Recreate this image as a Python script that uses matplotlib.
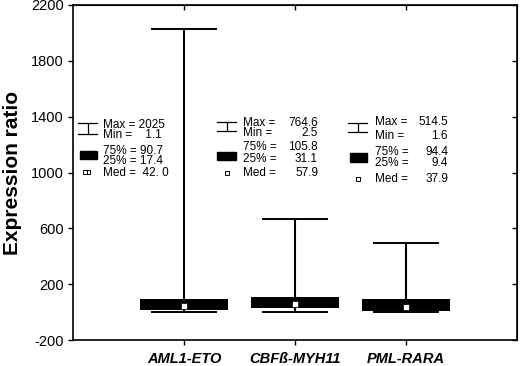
import matplotlib.pyplot as plt
import numpy as np

plt.rcParams['font.family'] = ['Liberation Sans', 'DejaVu Sans']
plt.rcParams['axes.unicode_minus'] = False

# 数据
cats = ['AML1-ETO', 'CBFß-MYH11', 'PML-RARA']
q25 = [17.4, 31.1, 9.4]
q75 = [90.7, 105.8, 94.4]
med = [42.0, 57.9, 37.9]
mins = [1.1, 2.5, 1.6]
maxs = [2025, 764.6, 514.5]
# 图中实际画出的上须位置
top_drawn = [2025, 665, 495]

# 文字标注
lab_names = ['Max =', 'Min =', '75% =', '25% =', 'Med =']
lab_vals = [
    ['2025', '1.1', '90.7', '17.4', '42. 0'],
    ['764.6', '2.5', '105.8', '31.1', '57.9'],
    ['514.5', '1.6', '94.4', '9.4', '37.9'],
]

W, H = 520, 366
fig = plt.figure(figsize=(W / 100, H / 100), dpi=100)
ax = fig.add_axes([73 / W, 1 - 340 / H, 444 / W, 335 / H])

x = np.arange(1, len(cats) + 1)

# 箱体
ax.bar(x, np.array(q75) - np.array(q25), bottom=q25, width=0.8,
       color='black', zorder=3)
# 须线与端线
ax.vlines(x, mins, top_drawn, color='black', lw=1.5, zorder=2)
ax.hlines(top_drawn, x - 0.3, x + 0.3, color='black', lw=1.4, zorder=2)
ax.hlines(mins, x - 0.3, x + 0.3, color='black', lw=1.4, zorder=2)
# 中位数
ax.plot(x, med, 's', ms=4.5, mfc='white', mec='black', mew=0.5, zorder=4)

ax.set_xlim(0, 4)
ax.set_ylim(-200, 2200)
ax.set_yticks(np.arange(-200, 2201, 400))
ax.set_xticks(x)
ax.set_xticklabels(cats, fontsize=10.5, fontweight='bold', fontstyle='italic')
ax.tick_params(axis='y', labelsize=10.5, direction='out', length=3.5, width=1, pad=3)
ax.tick_params(axis='x', direction='out', length=3.5, width=1, pad=5)
for s in ax.spines.values():
    s.set_linewidth(1.2)

# 右侧、上侧向内刻度
ry = ax.secondary_yaxis('right')
ry.set_yticks(np.arange(-200, 2201, 400))
ry.tick_params(direction='in', length=3.5, width=1, labelright=False)
tx = ax.secondary_xaxis('top')
tx.set_xticks(x)
tx.tick_params(direction='in', length=3.5, width=1, labeltop=False)

ax.set_ylabel('Expression ratio', fontsize=15, fontweight='bold')
ax.yaxis.set_label_coords(-0.115, 0.5)

# 图例式标注(像素布局)
def fx(p):
    return p / W

def fy(p):
    return 1 - p / H

icon_x = [(78, 97), (217, 236), (348, 367)]
rect_x = [(80, 97), (217, 236), (350, 367)]
text_x = [103, 243, 375]
val_x = [None, 318, 448]
rows = [[125, 135.5, 151, 160.5, 173],
        [122.5, 132.5, 147.5, 159, 172.5],
        [122, 136, 152, 163.5, 179]]
whisk_icon = [(123, 134), (122, 131), (123, 132)]
rect_icon = [(151, 158.5), (152, 160), (153, 162)]
med_icon = [(86.5, 172), (227, 173), (358, 179)]

for b in range(3):
    x0, x1 = icon_x[b]
    xm = (x0 + x1) / 2
    ya, yb = whisk_icon[b]
    for yy in (ya, yb):
        fig.add_artist(plt.Line2D([fx(x0), fx(x1)], [fy(yy), fy(yy)], color='black', lw=0.9))
    fig.add_artist(plt.Line2D([fx(xm), fx(xm)], [fy(ya), fy(yb)], color='black', lw=0.9))
    r0, r1 = rect_x[b]
    ra, rb = rect_icon[b]
    fig.add_artist(plt.Rectangle((fx(r0), fy(rb)), fx(r1) - fx(r0), fy(ra) - fy(rb),
                                 color='black', transform=fig.transFigure))
    mx, my = med_icon[b]
    if b == 0:
        fig.add_artist(plt.Rectangle((fx(mx - 3.5), fy(my + 2.2)), fx(7), fy(0) - fy(4.4),
                                     fc='white', ec='black', lw=0.7, transform=fig.transFigure))
        fig.add_artist(plt.Line2D([fx(mx), fx(mx)], [fy(my - 2.2), fy(my + 2.2)], color='black', lw=0.7))
    else:
        fig.add_artist(plt.Line2D([fx(mx)], [fy(my)], marker='s', ms=3.5, mfc='white',
                                  mec='black', mew=0.7))
    for r in range(5):
        if val_x[b] is None:
            s = lab_names[r] + (' ' * 4 if r == 1 else ' ' * 2 if r == 4 else ' ') + lab_vals[b][r]
            fig.text(fx(text_x[b]), fy(rows[b][r]), s, fontsize=8.5, va='center', ha='left')
        else:
            fig.text(fx(text_x[b]), fy(rows[b][r]), lab_names[r], fontsize=8.5, va='center', ha='left')
            fig.text(fx(val_x[b]), fy(rows[b][r]), lab_vals[b][r], fontsize=8.5, va='center', ha='right')

fig.savefig('out.png', dpi=100)
